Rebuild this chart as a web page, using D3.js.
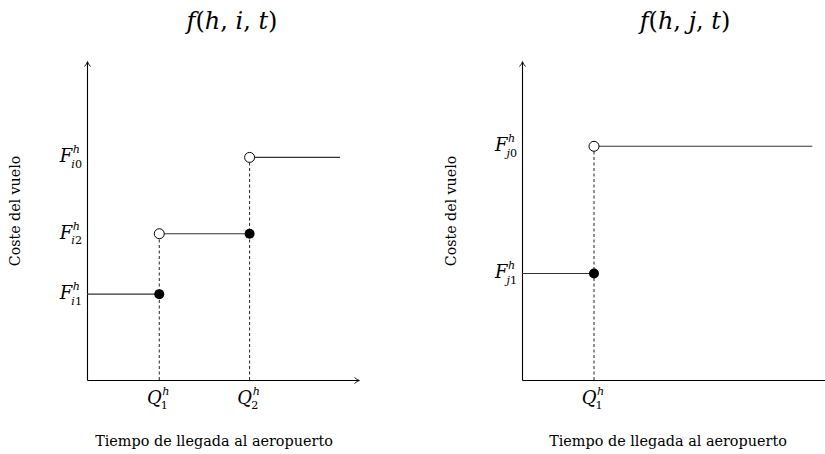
<!DOCTYPE html>
<html>
<head>
<meta charset="utf-8">
<script src="https://cdn.jsdelivr.net/npm/d3@7"></script>
<style>
  body { margin: 0; background: #fff; }
  text { font-family: "DejaVu Serif", serif; fill: #000; }
</style>
</head>
<body>
<svg width="825" height="454"></svg>
<script>
// panel i: break points Q and cost levels F
const breaksI = [1.6, 3.6];
const levelsI = [2.7, 4.6, 7.0];
const levelNamesI = [["i", "1"], ["i", "2"], ["i", "0"]];
const endI = 5.6;

// panel j
const breaksJ = [1.6];
const levelsJ = [3.35, 7.35];
const levelNamesJ = [["j", "1"], ["j", "0"]];
const endJ = 6.45;

const breakNames = ["1", "2"];
const titleVars = ["i", "j"];
const xLabel = "Tiempo de llegada al aeropuerto";
const yLabel = "Coste del vuelo";

const svg = d3.select("svg");

svg.append("defs").append("marker")
    .attr("id", "tip")
    .attr("markerUnits", "userSpaceOnUse")
    .attr("viewBox", "-5 -4 7 8")
    .attr("markerWidth", 7)
    .attr("markerHeight", 8)
    .attr("refX", 0)
    .attr("refY", 0)
    .attr("orient", "auto")
  .append("path")
    .attr("d", "M-4,-3 Q-1.5,-0.6 1,0 Q-1.5,0.6 -4,3")
    .attr("fill", "none")
    .attr("stroke", "#000")
    .attr("stroke-width", 0.9);

// write base^sup_sub, anchored at its right end or centre
function mathLabel(g, x, y, base, sup, sub, size, anchor) {
    const grp = g.append("g");
    const b = grp.append("text")
        .attr("x", 0).attr("y", 0)
        .style("font-size", size + "px")
        .style("font-style", "italic")
        .text(base);
    const bw = b.node().getComputedTextLength();
    const small = size * 0.62;
    const sp = grp.append("text")
        .attr("x", bw + 0.5).attr("y", -size * 0.5)
        .style("font-size", small + "px")
        .style("font-style", "italic")
        .text(sup);
    const sb = grp.append("text")
        .attr("x", bw - 1).attr("y", size * 0.3)
        .style("font-size", small + "px");
    sub.forEach(s => {
        sb.append("tspan")
            .style("font-style", /[a-z]/.test(s) ? "italic" : "normal")
            .text(s);
    });
    const w = bw + Math.max(sp.node().getComputedTextLength() + 0.5,
                            sb.node().getComputedTextLength() - 1);
    const x0 = anchor === "end" ? x - w : x - w / 2;
    grp.attr("transform", `translate(${x0},${y})`);
}

function drawPanel(p) {
    const x = d3.scaleLinear().domain([0, p.xMax]).range([p.left, p.right]);
    const y = d3.scaleLinear().domain([0, 10]).range([380, 62]);
    const g = svg.append("g");

    // axes
    const ax = g.append("g")
        .attr("transform", "translate(0,380)")
        .call(d3.axisBottom(x).tickValues([]).tickSizeOuter(0));
    ax.select(".domain").attr("stroke-width", 1.1).attr("marker-end", "url(#tip)");
    const ay = g.append("g")
        .attr("transform", `translate(${p.left},0)`)
        .call(d3.axisLeft(y).tickValues([]).tickSizeOuter(0));
    ay.select(".domain").attr("stroke-width", 1.1).attr("marker-end", "url(#tip)");

    // dashed drop lines
    g.selectAll(".drop").data(p.breaks).join("line")
        .attr("x1", d => x(d)).attr("x2", d => x(d))
        .attr("y1", y(0)).attr("y2", (d, i) => y(p.levels[i + 1]))
        .attr("stroke", "#222")
        .attr("stroke-width", 1)
        .attr("stroke-dasharray", "3,2.5");

    // step segments
    const segs = p.levels.map((lv, k) => ({
        x0: k === 0 ? 0 : p.breaks[k - 1],
        x1: k < p.breaks.length ? p.breaks[k] : p.end,
        lv: lv
    }));
    g.selectAll(".seg").data(segs).join("line")
        .attr("x1", d => x(d.x0)).attr("x2", d => x(d.x1))
        .attr("y1", d => y(d.lv)).attr("y2", d => y(d.lv))
        .attr("stroke", "#333")
        .attr("stroke-width", 1.1);

    // closed and open ends
    g.selectAll(".full").data(p.breaks).join("circle")
        .attr("cx", d => x(d)).attr("cy", (d, i) => y(p.levels[i]))
        .attr("r", 5).attr("fill", "#000");
    g.selectAll(".open").data(p.breaks).join("circle")
        .attr("cx", d => x(d)).attr("cy", (d, i) => y(p.levels[i + 1]))
        .attr("r", 5).attr("fill", "#fff")
        .attr("stroke", "#000").attr("stroke-width", 1);

    // tick labels
    p.levels.forEach((lv, k) => {
        mathLabel(g, p.left - 5, y(lv) + 5, "F", "h", p.names[k], 18, "end");
    });
    p.breaks.forEach((b, k) => {
        mathLabel(g, x(b) - 1, 404, "Q", "h", [breakNames[k]], 18, "middle");
    });

    // title
    const t = g.append("text")
        .attr("x", p.titleX).attr("y", 29)
        .attr("text-anchor", "middle")
        .style("font-size", "24px");
    [["f", 1], ["(", 0], ["h", 1], [", ", 0], [p.v, 1], [", ", 0], ["t", 1], [")", 0]]
        .forEach(([s, it]) => {
            t.append("tspan").style("font-style", it ? "italic" : "normal").text(s);
        });

    // axis titles
    g.append("text")
        .attr("x", p.xLabelX).attr("y", 446)
        .attr("text-anchor", "middle")
        .style("font-size", "14.4px")
        .text(xLabel);
    g.append("text")
        .attr("transform", `translate(${p.yLabelX},211) rotate(-90)`)
        .attr("text-anchor", "middle")
        .style("font-size", "14.2px")
        .text(yLabel);
}

drawPanel({ left: 87, right: 358, xMax: 6, breaks: breaksI, levels: levelsI,
            names: levelNamesI, end: endI, v: titleVars[0],
            titleX: 232, xLabelX: 214, yLabelX: 20 });
drawPanel({ left: 522, right: 837, xMax: 7, breaks: breaksJ, levels: levelsJ,
            names: levelNamesJ, end: endJ, v: titleVars[1],
            titleX: 685, xLabelX: 668, yLabelX: 456 });
</script>
</body>
</html>
